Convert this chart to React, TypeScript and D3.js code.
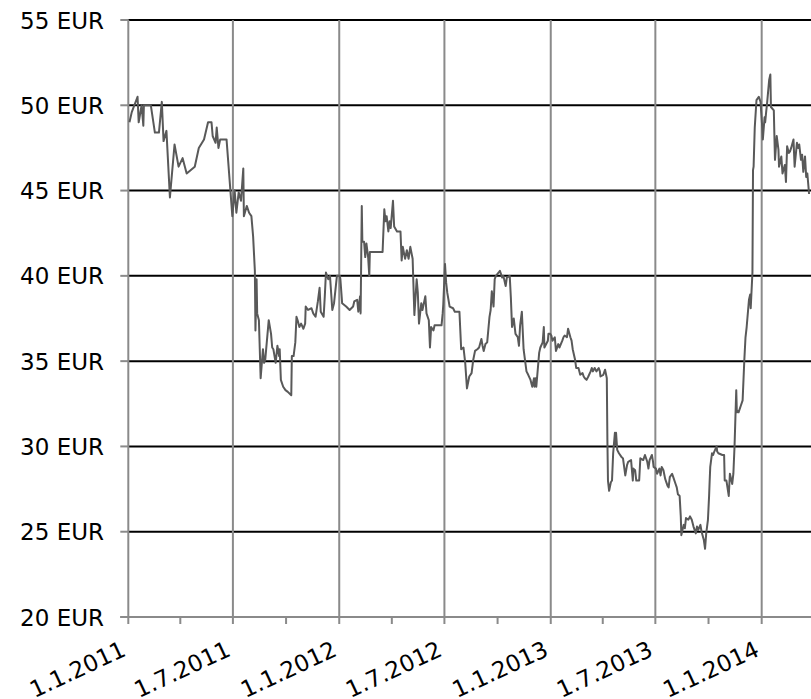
import * as d3 from 'd3'

// closing prices, [date, EUR]
const prices2011: [string, number][] = [
  ['2011-01-03', 49.0], ['2011-01-07', 49.6], ['2011-01-17', 50.5], ['2011-01-19', 49.0],
  ['2011-01-24', 50.0], ['2011-01-27', 48.8], ['2011-01-28', 50.0], ['2011-02-09', 50.0],
  ['2011-02-16', 48.4], ['2011-02-23', 48.4], ['2011-02-28', 50.2], ['2011-03-03', 47.9],
  ['2011-03-08', 48.5], ['2011-03-14', 44.6], ['2011-03-22', 47.7], ['2011-03-29', 46.4],
  ['2011-04-05', 46.9], ['2011-04-12', 46.0], ['2011-04-26', 46.4], ['2011-05-03', 47.5],
  ['2011-05-12', 48.0], ['2011-05-19', 49.0], ['2011-05-25', 49.0], ['2011-05-27', 48.2],
  ['2011-06-01', 47.8], ['2011-06-03', 48.7], ['2011-06-06', 47.5], ['2011-06-09', 48.0],
  ['2011-06-20', 48.0], ['2011-06-30', 43.5], ['2011-07-04', 45.0], ['2011-07-07', 43.7],
  ['2011-07-11', 44.9], ['2011-07-15', 44.4], ['2011-07-19', 46.3], ['2011-07-20', 43.5],
  ['2011-07-25', 44.1], ['2011-07-29', 43.7], ['2011-08-02', 43.5], ['2011-08-05', 42.3],
  ['2011-08-08', 40.3], ['2011-08-09', 36.8], ['2011-08-11', 39.8], ['2011-08-12', 37.8],
  ['2011-08-15', 37.4], ['2011-08-18', 34.0], ['2011-08-22', 35.7], ['2011-08-24', 34.9],
  ['2011-08-26', 35.1], ['2011-09-01', 37.4], ['2011-09-05', 36.6], ['2011-09-07', 35.8],
  ['2011-09-09', 35.7], ['2011-09-13', 34.9], ['2011-09-16', 35.9], ['2011-09-19', 35.3],
  ['2011-09-20', 35.7], ['2011-09-22', 33.9], ['2011-09-26', 33.5], ['2011-09-30', 33.3],
  ['2011-10-04', 33.2], ['2011-10-10', 33.0], ['2011-10-11', 35.3], ['2011-10-14', 35.3],
  ['2011-10-17', 36.1], ['2011-10-19', 37.6], ['2011-10-21', 37.4], ['2011-10-24', 37.0],
  ['2011-10-27', 37.2], ['2011-10-31', 36.9], ['2011-11-03', 37.2], ['2011-11-04', 38.2],
  ['2011-11-08', 38.0], ['2011-11-14', 38.1], ['2011-11-17', 37.8], ['2011-11-21', 37.6],
  ['2011-11-25', 38.5], ['2011-11-28', 39.3], ['2011-11-30', 37.9], ['2011-12-05', 37.6],
  ['2011-12-07', 38.8], ['2011-12-09', 40.2], ['2011-12-13', 39.8], ['2011-12-16', 40.0],
  ['2011-12-20', 38.0], ['2011-12-23', 38.4], ['2011-12-28', 40.0],
]

const prices2012: [string, number][] = [
  ['2012-01-02', 40.0], ['2012-01-03', 39.8], ['2012-01-06', 38.4], ['2012-01-13', 38.2],
  ['2012-01-19', 38.0], ['2012-01-25', 38.2], ['2012-01-27', 38.5], ['2012-02-01', 38.6],
  ['2012-02-03', 37.9], ['2012-02-06', 38.8], ['2012-02-07', 37.8], ['2012-02-09', 44.1],
  ['2012-02-10', 42.0], ['2012-02-13', 42.0], ['2012-02-15', 41.1], ['2012-02-17', 41.9],
  ['2012-02-20', 41.1], ['2012-02-22', 40.0], ['2012-02-23', 41.4], ['2012-03-16', 41.4],
  ['2012-03-19', 43.9], ['2012-03-21', 43.2], ['2012-03-23', 43.5], ['2012-03-26', 42.6],
  ['2012-03-28', 43.2], ['2012-03-30', 42.8], ['2012-04-03', 44.4], ['2012-04-05', 42.9],
  ['2012-04-10', 42.6], ['2012-04-16', 42.6], ['2012-04-18', 40.9], ['2012-04-20', 41.7],
  ['2012-04-24', 41.0], ['2012-04-27', 41.5], ['2012-04-30', 41.0], ['2012-05-03', 41.7],
  ['2012-05-07', 41.0], ['2012-05-08', 39.9], ['2012-05-10', 37.7], ['2012-05-14', 39.8],
  ['2012-05-16', 39.0], ['2012-05-18', 37.2], ['2012-05-22', 38.4], ['2012-05-24', 38.0],
  ['2012-05-29', 38.8], ['2012-05-31', 37.8], ['2012-06-04', 37.4], ['2012-06-06', 35.8],
  ['2012-06-08', 37.0], ['2012-06-12', 36.8], ['2012-06-14', 37.1], ['2012-06-26', 37.1],
  ['2012-06-28', 37.8], ['2012-06-29', 38.3], ['2012-07-02', 40.7], ['2012-07-04', 39.6],
  ['2012-07-06', 39.0], ['2012-07-10', 38.2], ['2012-07-16', 38.1], ['2012-07-19', 37.9],
  ['2012-07-27', 37.9], ['2012-07-30', 35.7], ['2012-08-03', 35.8], ['2012-08-06', 34.9],
  ['2012-08-09', 33.4], ['2012-08-13', 34.1], ['2012-08-17', 34.3], ['2012-08-20', 35.1],
  ['2012-08-23', 35.6], ['2012-08-27', 35.7], ['2012-08-30', 35.8], ['2012-09-03', 36.3],
  ['2012-09-05', 35.9], ['2012-09-07', 35.6], ['2012-09-10', 36.0], ['2012-09-13', 36.1],
  ['2012-09-17', 37.6], ['2012-09-19', 38.0], ['2012-09-21', 39.1], ['2012-09-24', 38.2],
  ['2012-09-26', 39.8], ['2012-09-28', 40.0], ['2012-10-03', 40.2], ['2012-10-05', 40.3],
  ['2012-10-09', 39.9], ['2012-10-11', 40.0], ['2012-10-15', 39.4], ['2012-10-17', 39.9],
  ['2012-10-22', 40.0], ['2012-10-24', 38.7], ['2012-10-26', 37.0], ['2012-10-29', 37.5],
  ['2012-11-01', 36.6], ['2012-11-05', 36.4], ['2012-11-07', 35.9], ['2012-11-09', 37.1],
  ['2012-11-12', 37.9], ['2012-11-15', 35.7], ['2012-11-20', 34.4], ['2012-11-23', 34.2],
  ['2012-11-27', 33.9], ['2012-11-30', 33.5], ['2012-12-03', 34.0], ['2012-12-04', 33.5],
  ['2012-12-06', 34.0], ['2012-12-07', 33.5], ['2012-12-12', 35.5], ['2012-12-14', 35.8],
  ['2012-12-18', 36.1], ['2012-12-20', 37.0], ['2012-12-21', 35.8], ['2012-12-27', 36.2],
  ['2012-12-28', 36.6], ['2012-12-31', 36.6],
]

const prices2013: [string, number][] = [
  ['2013-01-02', 36.5], ['2013-01-04', 36.2], ['2013-01-08', 36.4], ['2013-01-10', 35.6],
  ['2013-01-14', 36.0], ['2013-01-16', 35.8], ['2013-01-21', 36.2], ['2013-01-23', 36.4],
  ['2013-01-25', 36.5], ['2013-01-29', 36.4], ['2013-01-31', 36.9], ['2013-02-04', 36.4],
  ['2013-02-06', 36.2], ['2013-02-08', 35.7], ['2013-02-12', 35.1], ['2013-02-14', 34.6],
  ['2013-02-18', 34.6], ['2013-02-21', 34.2], ['2013-02-25', 34.3], ['2013-02-27', 34.1],
  ['2013-03-01', 34.0], ['2013-03-04', 33.9], ['2013-03-07', 34.1], ['2013-03-11', 34.4],
  ['2013-03-13', 34.6], ['2013-03-15', 34.4], ['2013-03-18', 34.6], ['2013-03-21', 34.4],
  ['2013-03-25', 34.6], ['2013-03-27', 34.4], ['2013-03-28', 34.1], ['2013-04-02', 34.2],
  ['2013-04-05', 34.5], ['2013-04-08', 34.0], ['2013-04-09', 30.4], ['2013-04-10', 28.0],
  ['2013-04-12', 27.4], ['2013-04-15', 27.9], ['2013-04-17', 28.0], ['2013-04-19', 29.6],
  ['2013-04-22', 30.8], ['2013-04-23', 30.1], ['2013-04-24', 30.8], ['2013-04-26', 29.8],
  ['2013-04-29', 29.6], ['2013-05-03', 29.4], ['2013-05-06', 29.3], ['2013-05-08', 28.8],
  ['2013-05-10', 28.3], ['2013-05-13', 28.9], ['2013-05-15', 29.1], ['2013-05-20', 29.2],
  ['2013-05-23', 28.0], ['2013-05-24', 28.7], ['2013-05-27', 28.6], ['2013-05-29', 28.0],
  ['2013-06-03', 28.0], ['2013-06-05', 29.3], ['2013-06-10', 29.2], ['2013-06-13', 29.5],
  ['2013-06-17', 29.1], ['2013-06-19', 28.7], ['2013-06-21', 29.2], ['2013-06-25', 29.5],
  ['2013-06-27', 29.1], ['2013-06-28', 28.8], ['2013-07-02', 28.7], ['2013-07-04', 28.4],
  ['2013-07-08', 28.7], ['2013-07-10', 28.3], ['2013-07-12', 28.8], ['2013-07-15', 28.6],
  ['2013-07-18', 28.1], ['2013-07-22', 27.7], ['2013-07-24', 27.6], ['2013-07-26', 28.2],
  ['2013-07-30', 28.4], ['2013-08-01', 28.2], ['2013-08-05', 27.8], ['2013-08-07', 27.6],
  ['2013-08-09', 27.2], ['2013-08-12', 27.1], ['2013-08-14', 25.9], ['2013-08-15', 24.8],
  ['2013-08-19', 25.4], ['2013-08-21', 25.2], ['2013-08-23', 25.8], ['2013-08-27', 25.7],
  ['2013-08-30', 25.9], ['2013-09-02', 25.7], ['2013-09-05', 25.3], ['2013-09-09', 24.9],
  ['2013-09-11', 25.3], ['2013-09-13', 25.1], ['2013-09-17', 25.4], ['2013-09-19', 25.0],
  ['2013-09-23', 24.5], ['2013-09-25', 24.0], ['2013-09-27', 24.9], ['2013-09-30', 25.7],
  ['2013-10-02', 27.1], ['2013-10-03', 28.0], ['2013-10-04', 28.8], ['2013-10-07', 29.6],
  ['2013-10-09', 29.5], ['2013-10-11', 29.7], ['2013-10-15', 30.0], ['2013-10-16', 29.7],
  ['2013-10-18', 29.6], ['2013-10-25', 29.5], ['2013-10-28', 29.5], ['2013-10-29', 28.0],
  ['2013-11-01', 28.0], ['2013-11-05', 27.1], ['2013-11-07', 28.4], ['2013-11-11', 27.8],
  ['2013-11-13', 28.4], ['2013-11-15', 30.0], ['2013-11-18', 33.3], ['2013-11-19', 32.0],
  ['2013-11-20', 32.1], ['2013-11-22', 32.0], ['2013-11-26', 32.4], ['2013-11-29', 32.7],
  ['2013-12-02', 35.1], ['2013-12-04', 36.4], ['2013-12-06', 37.0], ['2013-12-10', 38.6],
  ['2013-12-12', 38.9], ['2013-12-13', 38.1], ['2013-12-16', 40.2], ['2013-12-17', 46.2],
  ['2013-12-18', 46.4], ['2013-12-20', 48.7], ['2013-12-23', 50.3], ['2013-12-27', 50.5],
  ['2013-12-30', 50.2],
]

const prices2014: [string, number][] = [
  ['2014-01-02', 48.7], ['2014-01-03', 48.0], ['2014-01-06', 49.3], ['2014-01-07', 49.0],
  ['2014-01-09', 49.7], ['2014-01-10', 50.0], ['2014-01-14', 51.5], ['2014-01-16', 51.8],
  ['2014-01-17', 49.9], ['2014-01-22', 49.7], ['2014-01-23', 48.2], ['2014-01-24', 46.8],
  ['2014-01-27', 48.2], ['2014-01-30', 47.4], ['2014-01-31', 46.4], ['2014-02-04', 47.0],
  ['2014-02-06', 46.0], ['2014-02-10', 46.5], ['2014-02-12', 45.5], ['2014-02-14', 47.6],
  ['2014-02-17', 47.2], ['2014-02-19', 47.3], ['2014-02-21', 47.5], ['2014-02-25', 48.0],
  ['2014-02-27', 46.4], ['2014-03-03', 47.8], ['2014-03-05', 47.5], ['2014-03-07', 47.7],
  ['2014-03-10', 46.8], ['2014-03-12', 47.1], ['2014-03-14', 46.1], ['2014-03-17', 47.0],
  ['2014-03-19', 45.8], ['2014-03-21', 46.0], ['2014-03-24', 44.8],
]

const yTicks = [20, 25, 30, 35, 40, 45, 50, 55]
const dateStart = '2011-01-01'
const dateEnd = '2014-03-27T08:00'

const WIDTH = 811
const HEIGHT = 699
const MARGIN = { top: 20, right: 0, bottom: 82, left: 128.3 }
const FONT = "Verdana, 'DejaVu Sans', sans-serif"

export default function App() {
  const parse = d3.utcParse('%Y-%m-%d')
  const data = [...prices2011, ...prices2012, ...prices2013, ...prices2014]
    .map(([d, v]) => ({ date: parse(d) as Date, value: v }))

  const x = d3.scaleUtc()
    .domain([parse(dateStart) as Date, d3.utcParse('%Y-%m-%dT%H:%M')(dateEnd) as Date])
    .range([MARGIN.left, WIDTH - MARGIN.right])

  const y = d3.scaleLinear()
    .domain([20, 55])
    .range([HEIGHT - MARGIN.bottom, MARGIN.top])

  const halfYears = x.ticks(d3.utcMonth.every(6) as d3.CountableTimeInterval)
  const quarters = x.ticks(d3.utcMonth.every(3) as d3.CountableTimeInterval)
  const fmt = d3.utcFormat('%-d.%-m.%Y')

  const line = d3.line<{ date: Date; value: number }>()
    .x(d => x(d.date))
    .y(d => y(d.value))

  const x0 = x.range()[0]
  const x1 = x.range()[1]
  const yBottom = y(20)

  return (
    <svg
      width={WIDTH}
      height={HEIGHT}
      style={{ position: 'absolute', left: 0, top: 0, display: 'block', background: '#fff' }}
      fontFamily={FONT}
    >
      {/* horizontal gridlines */}
      {yTicks.filter(t => t > 20).map(t => (
        <line key={t} x1={x0} x2={x1} y1={y(t)} y2={y(t)} stroke="#000" strokeWidth={2} />
      ))}

      {/* vertical gridlines every half year */}
      {halfYears.map(d => (
        <line key={+d} x1={x(d)} x2={x(d)} y1={MARGIN.top} y2={yBottom} stroke="#8a8a8a" strokeWidth={2} />
      ))}

      {/* x axis */}
      <line x1={x0 - 8} x2={x1} y1={yBottom} y2={yBottom} stroke="#8a8a8a" strokeWidth={2} />
      {quarters.map(d => (
        <line key={+d} x1={x(d)} x2={x(d)} y1={yBottom} y2={yBottom + 7} stroke="#8a8a8a" strokeWidth={2} />
      ))}
      {halfYears.map(d => (
        <text
          key={+d}
          transform={`translate(${x(d) - 1}, ${yBottom + 38}) rotate(-25)`}
          textAnchor="end"
          fontSize={23}
          fill="#000"
        >
          {fmt(d)}
        </text>
      ))}

      {/* y axis ticks + labels */}
      {yTicks.map(t => (
        <g key={t} transform={`translate(0, ${y(t)})`}>
          <line x1={x0 - 8} x2={x0} stroke="#8a8a8a" strokeWidth={2} />
          <text x={104} y={8.5} textAnchor="end" fontSize={23} fill="#000">
            {t} EUR
          </text>
        </g>
      ))}

      {/* price line */}
      <path d={line(data) ?? ''} fill="none" stroke="#595959" strokeWidth={2} strokeLinejoin="round" />
    </svg>
  )
}
